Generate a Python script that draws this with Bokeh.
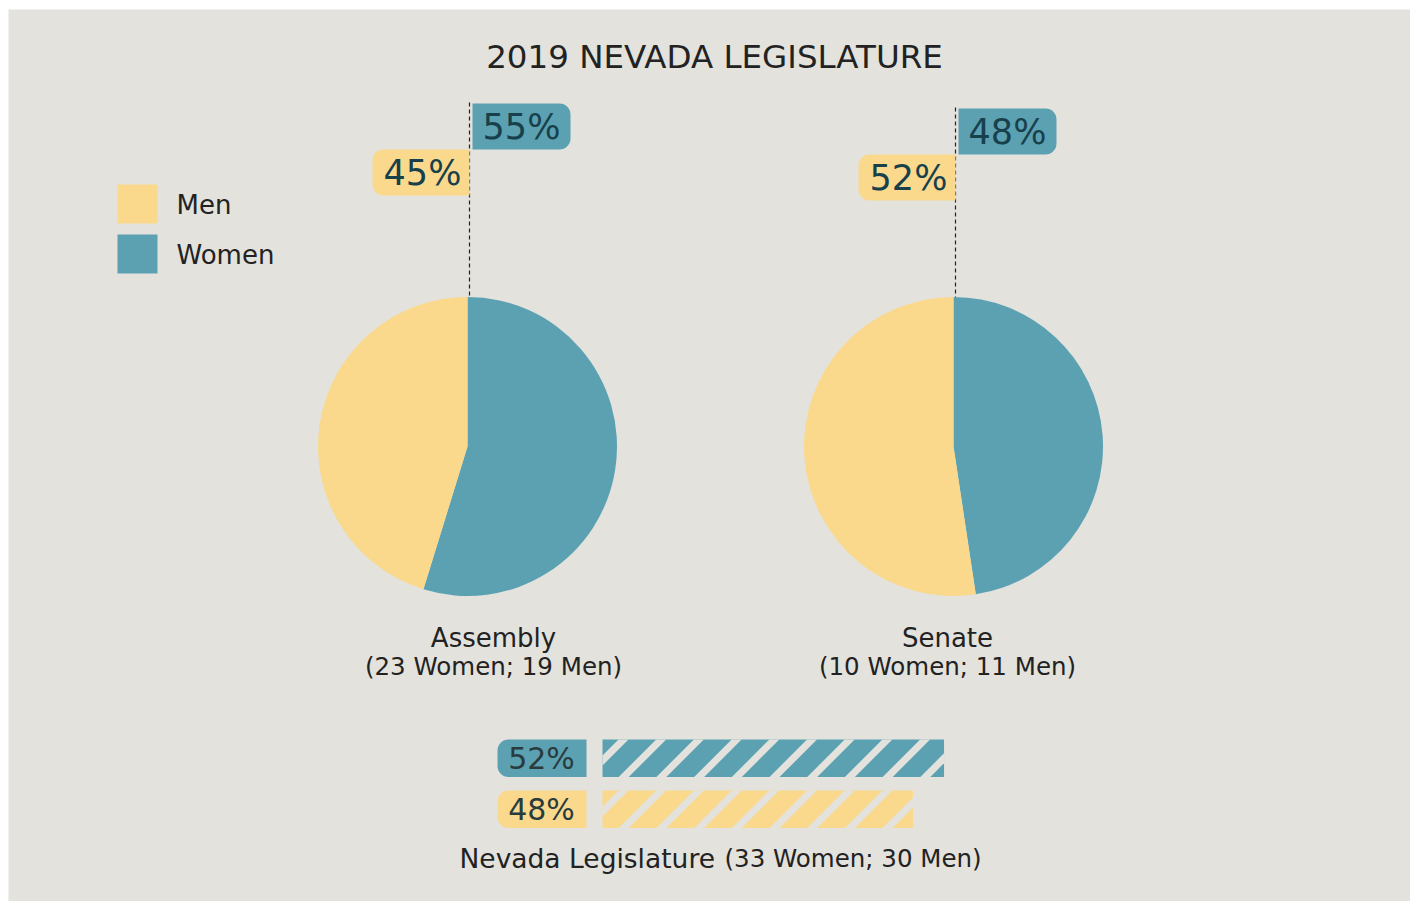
from bokeh.plotting import figure
from bokeh.models import Range1d
from bokeh.core.properties import value
from bokeh.embed import file_html
from bokeh.resources import INLINE
import math

# ---------------- data ----------------
chambers = ["Assembly", "Senate"]
women = [23, 10]
men = [19, 11]
legislature_women = 33
legislature_men = 30
legend_labels = ["Men", "Women"]
title_text = "2019 NEVADA LEGISLATURE"

# ---------------- style ----------------
BG = "#E3E2DD"
YELLOW = "#FAD98D"
TEAL = "#5BA1B2"
DARK = "#222222"
LABEL = "#17404B"
BARLABEL = "#2A3B3D"
FONT = "DejaVu Sans"

LEFT, TOP = 8, 9
W, H = 1410, 901
p = figure(width=W, height=H, output_backend="svg", toolbar_location=None,
           x_range=Range1d(LEFT, W), y_range=Range1d(0, H - TOP),
           min_border_left=LEFT, min_border_top=TOP, min_border_right=0, min_border_bottom=0,
           background_fill_color=BG, border_fill_color="white")
p.axis.visible = False
p.grid.visible = False
p.outline_line_color = None

def Y(sy):
    return H - sy

def txt(x, y, s, size, color, align="center", baseline="middle"):
    p.text(x=[x], y=[y], text=[s], text_font=value(FONT), text_font_size=value(size),
           text_color=color, text_align=align, text_baseline=baseline)

def clip(poly, xmin, xmax, ymin, ymax):
    """Sutherland-Hodgman clip of a polygon to an axis-aligned box."""
    def clip_edge(pts, inside, inter):
        out = []
        n = len(pts)
        for i in range(n):
            cur, prev = pts[i], pts[i - 1]
            if inside(cur):
                if not inside(prev):
                    out.append(inter(prev, cur))
                out.append(cur)
            elif inside(prev):
                out.append(inter(prev, cur))
        return out
    def ix(xc):
        return lambda a, b: (xc, a[1] + (b[1] - a[1]) * (xc - a[0]) / (b[0] - a[0]))
    def iy(yc):
        return lambda a, b: (a[0] + (b[0] - a[0]) * (yc - a[1]) / (b[1] - a[1]), yc)
    pts = poly
    for inside, inter in [(lambda q: q[0] >= xmin, ix(xmin)), (lambda q: q[0] <= xmax, ix(xmax)),
                          (lambda q: q[1] >= ymin, iy(ymin)), (lambda q: q[1] <= ymax, iy(ymax))]:
        if not pts:
            break
        pts = clip_edge(pts, inside, inter)
    return pts

# title
txt(714, Y(56), title_text, "32.5px", DARK)

# legend
leg_colors = [YELLOW, TEAL]
leg_tops = [184, 234]
for lab, col, top in zip(legend_labels, leg_colors, leg_tops):
    p.quad(left=[117], right=[157], top=[Y(top)], bottom=[Y(top + 39)], fill_color=col, line_color=None)
    txt(176, Y(top + 20), lab, "26px", DARK, align="left")

# pies
centers_x = [467, 953]
caption_x = [493, 947]
center_y = Y(446)
R = 149.5
teal_tops = [Y(103), Y(108)]
for name, w, m, cx, capx, ttop in zip(chambers, women, men, centers_x, caption_x, teal_tops):
    tot = w + m
    fw = w / tot
    fm = m / tot
    a0 = math.pi / 2
    a_split = a0 - 2 * math.pi * fw
    p.wedge(x=[cx], y=[center_y], radius=R, start_angle=[a_split], end_angle=[a0],
            fill_color=TEAL, line_color=None)
    p.wedge(x=[cx], y=[center_y], radius=R, start_angle=[a0], end_angle=[a_split + 2 * math.pi],
            fill_color=YELLOW, line_color=None)
    lx = cx + 2
    # dashed leader
    p.segment(x0=[lx], y0=[ttop + 1], x1=[lx], y1=[center_y + R], line_color="#222222",
              line_width=1.2, line_dash="4 3")
    # women label box (right of line)
    p.quad(left=[lx + 3], right=[lx + 101], top=[ttop], bottom=[ttop - 46],
           fill_color=TEAL, line_color=None, border_radius=(0, 11, 11, 0))
    txt(lx + 52, ttop - 23, f"{round(fw * 100)}%", "35px", LABEL)
    # men label box (left of line)
    ytop = ttop - 46
    p.quad(left=[lx - 97], right=[lx], top=[ytop], bottom=[ytop - 46],
           fill_color=YELLOW, line_color=None, border_radius=(11, 0, 0, 11))
    txt(lx - 47, ytop - 23, f"{round(fm * 100)}%", "35px", LABEL)
    # captions
    txt(capx, Y(637), name, "26px", DARK)
    txt(capx, Y(666), f"({w} Women; {m} Men)", "24.5px", DARK)

# bottom bars (solid bar with diagonal background-coloured gaps)
tot = legislature_women + legislature_men
shares = [legislature_women / tot, legislature_men / tot]
bar_cols = [TEAL, YELLOW]
bar_tops = [Y(739), Y(790)]
bar_h = 37.5
bar_x0 = 602
full = 652
PERIOD = 37.7
GAP = 10.0
OFFSET = 21.0
for sh, col, top in zip(shares, bar_cols, bar_tops):
    p.quad(left=[497], right=[586], top=[top], bottom=[top - bar_h], fill_color=col,
           line_color=None, border_radius=(11, 0, 0, 11))
    txt(541, top - 18.5, f"{round(sh * 100)}%", "30px", BARLABEL)
    right = bar_x0 + sh * full
    bottom = top - bar_h
    p.quad(left=[bar_x0], right=[right], top=[top], bottom=[bottom],
           fill_color=col, line_color=None)
    xs, ys = [], []
    k = -2
    while True:
        c = bar_x0 + OFFSET + k * PERIOD   # gap centre x at the bar's top edge
        u0 = c - GAP / 2 - top
        u1 = c + GAP / 2 - top
        y_lo, y_hi = bottom - 5, top + 5
        band = [(u0 + y_lo, y_lo), (u1 + y_lo, y_lo), (u1 + y_hi, y_hi), (u0 + y_hi, y_hi)]
        pts = clip(band, bar_x0, right, bottom, top)
        if u0 + bottom > right:
            break
        if len(pts) >= 3:
            xs.append([q[0] for q in pts])
            ys.append([q[1] for q in pts])
        k += 1
    p.patches(xs=xs, ys=ys, fill_color=BG, line_color=None)

txt(459, Y(858), "Nevada Legislature", "26.5px", DARK, align="left")
txt(724, Y(858), f"({legislature_women} Women; {legislature_men} Men)", "24.5px", DARK, align="left")

open("out.html", "w").write(file_html(p, INLINE))
